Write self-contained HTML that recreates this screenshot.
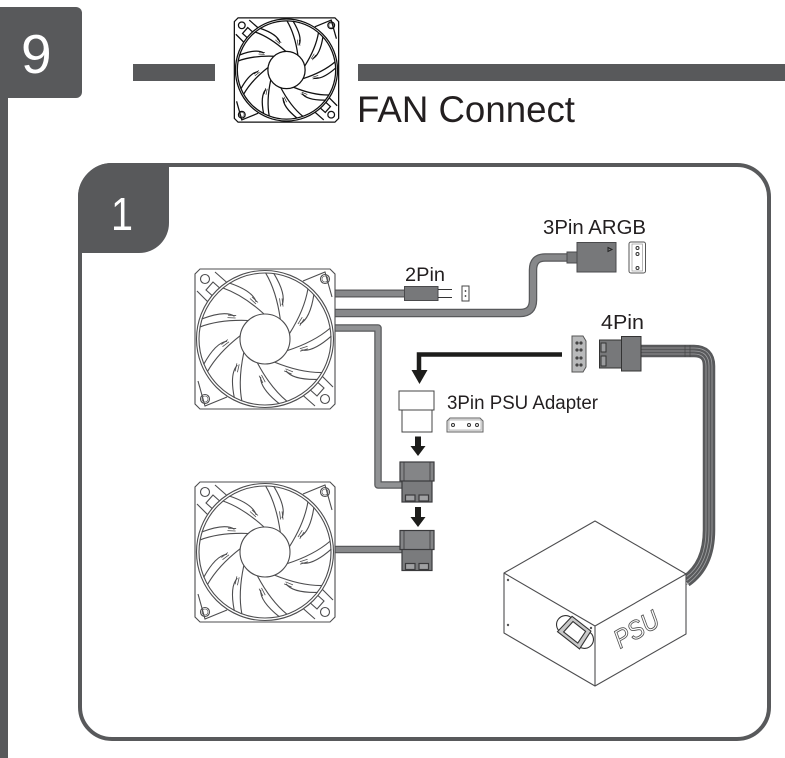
<!DOCTYPE html>
<html><head><meta charset="utf-8"><style>
html,body{margin:0;padding:0;background:#fff}
svg{display:block}
text{font-family:"Liberation Sans",sans-serif;fill:#231f20}
</style></head><body>
<svg width="785" height="758" viewBox="0 0 785 758" xmlns="http://www.w3.org/2000/svg">
<defs>
<g id="b" fill="none">
<path d="M-1,-25 Q-22,-44 -42,-51"/>
<path d="M-8.800,-37 Q-12,-48 -35.700,-56"/>
<path d="M-13,-42 L-7,-36.500 M-15,-40.500 L-9,-35" stroke-width=".8"/>
</g>
<g id="fan" fill="none">
<path d="M-65,-70H65L70,-65V65L65,70H-65L-70,65V-65Z" fill="#fff"/>
<g id="corner">
<circle cx="-60" cy="-60" r="4.500"/>
<path d="M-50,-67L-33,-52M-68,-48L-52,-32M-52,-57L-42,-48L-49,-40L-59,-49Z"/>
</g>
<use href="#corner" transform="rotate(180)"/>
<circle cx="60" cy="-60" r="4.500"/><circle cx="60" cy="-60" r="3" stroke-width=".6"/><circle cx="-60" cy="60" r="4.500"/><circle cx="-60" cy="60" r="3" stroke-width=".6"/>
<path d="M38,-58L60,-67L67,-42M-38,58L-60,67L-67,42"/>
<circle r="68.500" fill="#fff"/><circle r="66"/>
<use href="#b"/><use href="#b" transform="rotate(40)"/><use href="#b" transform="rotate(80)"/><use href="#b" transform="rotate(120)"/><use href="#b" transform="rotate(160)"/><use href="#b" transform="rotate(200)"/><use href="#b" transform="rotate(240)"/><use href="#b" transform="rotate(280)"/><use href="#b" transform="rotate(320)"/>
<circle r="25" fill="#fff"/>
</g>
<g id="conn" stroke="#3a3a3c" stroke-width="1.200">
<rect x="2" y="18" width="30" height="22" fill="#7a7b7d"/>
<rect x="5.500" y="33" width="9.500" height="6" fill="#a0a1a3"/><rect x="19" y="33" width="9.500" height="6" fill="#a0a1a3"/>
<rect x="0" y="0" width="34" height="19" fill="#848587"/>
<path d="M4,0V19M30,0V19" fill="none" stroke-width=".8"/>
</g>
</defs>

<!-- section tab -->
<rect x="0" y="7" width="82" height="91" rx="6" fill="#58595b"/>
<path d="M0,7h20v91H0z" fill="#58595b"/>
<rect x="0" y="90" width="8" height="668" fill="#58595b"/>
<text x="21" y="73" font-size="55" style="fill:#fff">9</text>
<rect x="133" y="64" width="82" height="17" fill="#58595b"/>
<rect x="358" y="64" width="427" height="17" fill="#58595b"/>
<use href="#fan" transform="translate(286.500,70) scale(.745)" stroke="#111" stroke-width="1.700"/>
<text x="357" y="122" font-size="37" textLength="218" lengthAdjust="spacingAndGlyphs">FAN Connect</text>

<!-- panel -->
<rect x="80" y="165" width="689" height="574" rx="32" fill="#fff" stroke="#58595b" stroke-width="4"/>
<path d="M78,253V197A34,34 0 0 1 112,163H169V223A30,30 0 0 1 139,253Z" fill="#58595b"/>
<text x="111" y="230" font-size="46" textLength="22" lengthAdjust="spacingAndGlyphs" style="fill:#fff">1</text>

<!-- cables -->
<g fill="none" stroke-linejoin="round">
<path d="M335,293.500H405" stroke="#58595b" stroke-width="8"/><path d="M335,293.500H405" stroke="#87888a" stroke-width="5.500"/>
<path d="M335,313H520Q533,313 533,300V270Q533,257.500 545,257.500H568" stroke="#58595b" stroke-width="8.500"/>
<path d="M335,313H520Q533,313 533,300V270Q533,257.500 545,257.500H568" stroke="#87888a" stroke-width="6"/>
<path d="M335,328H378V485H403" stroke="#58595b" stroke-width="7.500"/><path d="M335,328H378V485H403" stroke="#919294" stroke-width="5"/>
<path d="M335,549.500H403" stroke="#58595b" stroke-width="7.500"/><path d="M335,549.500H403" stroke="#87888a" stroke-width="5"/>
<path d="M641,351H694Q709,351 709,366V530Q709,565 686,581" stroke="#58595b" stroke-width="12.500"/>
<path d="M641,348H694Q712,348 712,366V530Q712,567 686,585M641,351H694Q709,351 709,366V530Q709,565 686,581M641,354H694Q706,354 706,366V530Q706,563 686,577" stroke="#a2a3a5" stroke-width=".8"/>
<path d="M685,345V357M690,345V357" stroke="#444" stroke-width=".7"/>
</g>

<!-- 2pin -->
<rect x="404.500" y="286.500" width="33.500" height="14" fill="#77787a" stroke="#4a4a4c"/>
<path d="M438,289.500H452M438,297.500H452" stroke="#333" fill="none"/>
<rect x="462" y="286" width="7" height="15" fill="#fff" stroke="#444"/>
<circle cx="465.500" cy="291" r=".9" fill="#333"/><circle cx="465.500" cy="296" r=".9" fill="#333"/>

<!-- 3pin ARGB -->
<rect x="567" y="252" width="11" height="11" fill="#77787a" stroke="#4a4a4c"/>
<rect x="577" y="242.500" width="39" height="29.500" fill="#77787a" stroke="#4a4a4c"/>
<path d="M608,247.500L612,249.500L608,251.500Z" fill="none" stroke="#222"/>
<rect x="629" y="242" width="16.500" height="31" rx="2" fill="#fff" stroke="#555"/>
<rect x="632" y="244" width="10.500" height="27" fill="none" stroke="#999" stroke-width=".7"/>
<circle cx="637.500" cy="248" r="1.500" fill="#fff" stroke="#333"/><circle cx="637.500" cy="254" r="1.500" fill="#fff" stroke="#333"/><circle cx="637.500" cy="268" r="1.500" fill="#fff" stroke="#333"/>

<!-- 4pin -->
<path d="M572,336H583L586,341V367L583,372H572Z" fill="#b9babb" stroke="#555"/>
<g fill="#444"><circle cx="577" cy="343" r="1.600"/><circle cx="581" cy="343" r="1.600"/><circle cx="577" cy="350" r="1.600"/><circle cx="581" cy="350" r="1.600"/><circle cx="577" cy="358" r="1.600"/><circle cx="581" cy="358" r="1.600"/><circle cx="577" cy="365" r="1.600"/><circle cx="581" cy="365" r="1.600"/></g>
<rect x="599.500" y="340" width="22" height="28" fill="#77787a" stroke="#333"/>
<rect x="601" y="343" width="5" height="9" fill="#9a9b9d" stroke="#333"/><rect x="601" y="356" width="5" height="10" fill="#9a9b9d" stroke="#333"/>
<rect x="621.500" y="336.500" width="19.500" height="34.500" fill="#77787a" stroke="#333"/>

<!-- black arrows -->
<path d="M562,354.500H419V371" fill="none" stroke="#1d1d1b" stroke-width="4.500"/>
<path d="M411.500,370H427.500L419.500,384Z" fill="#1d1d1b"/>
<path d="M415,436.500H421V446H425.500L418,456L410.500,446H415Z" fill="#1d1d1b"/>
<path d="M415,507H421V517H425.500L418,527L410.500,517H415Z" fill="#1d1d1b"/>

<!-- adapter -->
<rect x="402" y="409" width="30" height="23" fill="#fff" stroke="#444"/>
<rect x="399" y="391" width="35" height="19" fill="#fff" stroke="#444"/>
<path d="M447,421L450,418H480L483,421V432H447Z" fill="#e5e5e5" stroke="#666"/>
<rect x="449" y="420" width="32" height="10" fill="#fff" stroke="#999" stroke-width=".6"/>
<circle cx="453" cy="425" r="1.500" fill="#fff" stroke="#333"/><circle cx="469" cy="425" r="1.500" fill="#fff" stroke="#333"/><circle cx="477" cy="425" r="1.500" fill="#fff" stroke="#333"/>

<!-- stacked connectors -->
<use href="#conn" transform="translate(400,462)"/>
<use href="#conn" transform="translate(400,530.500)"/>

<!-- fans -->
<use href="#fan" transform="translate(265,339)" stroke="#4d4d4f" stroke-width="1.100"/>
<use href="#fan" transform="translate(265,552)" stroke="#4d4d4f" stroke-width="1.100"/>

<!-- psu -->
<g fill="#fff" stroke="#4d4d4f" stroke-width="1.100" stroke-linejoin="round">
<path d="M595,521L686,574V634L595,686L504,633V573Z"/>
<path d="M504,573L595,626L686,574M595,626V686" fill="none"/>
</g>
<circle cx="508" cy="580" r="1.200" fill="#555"/><circle cx="508" cy="625" r="1.200" fill="#555"/><circle cx="591" cy="628" r="1.200" fill="#555"/>
<g transform="translate(575,632) rotate(38)" fill="none" stroke="#333" stroke-width="1.100">
<rect x="-21" y="-9" width="42" height="18" rx="9" fill="#fff"/>
<path d="M-12,-10.500H12L14,10.500H-14Z" fill="#c8c8c8"/>
<path d="M-8,-7H8L9,7H-9Z" fill="#fff"/>
</g>
<text x="620" y="649" font-size="26" font-style="italic" transform="rotate(-30 620 649)" textLength="48" lengthAdjust="spacingAndGlyphs" style="fill:#fff;stroke:#555;stroke-width:.9">PSU</text>

<!-- labels -->
<text x="405" y="281" font-size="19" textLength="40" lengthAdjust="spacingAndGlyphs">2Pin</text>
<text x="543" y="234" font-size="20" textLength="103" lengthAdjust="spacingAndGlyphs">3Pin ARGB</text>
<text x="601" y="329" font-size="20.500" textLength="43" lengthAdjust="spacingAndGlyphs">4Pin</text>
<text x="447" y="409" font-size="19" textLength="151" lengthAdjust="spacingAndGlyphs">3Pin PSU Adapter</text>
</svg>
</body></html>
